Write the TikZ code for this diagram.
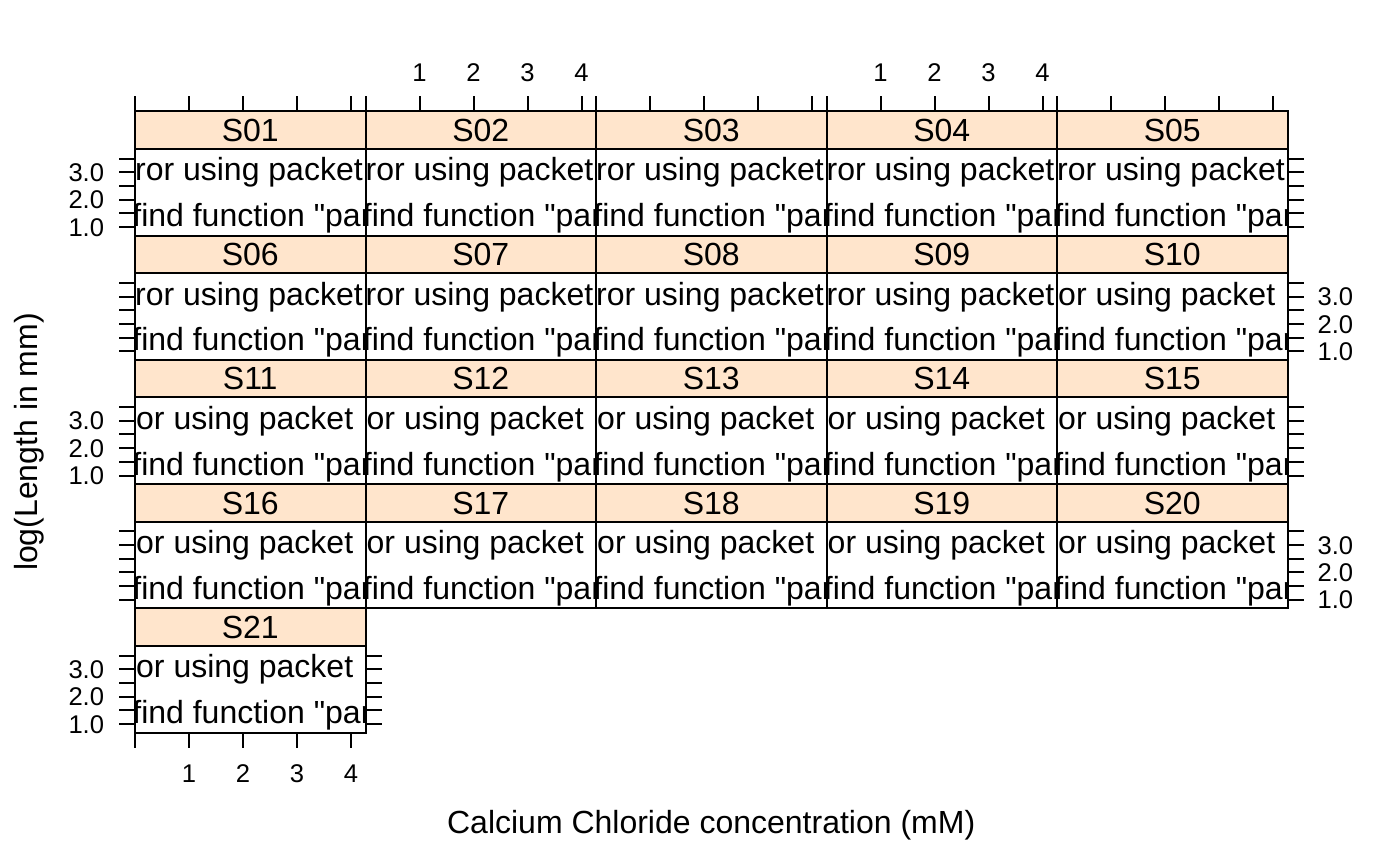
\documentclass[tikz,border=0pt]{standalone}
\usepackage{fontspec}
\setmainfont{Liberation Sans}[Ligatures=TeXOff]
\definecolor{stripcol}{HTML}{FFE5CC}

\begin{document}
\begin{tikzpicture}[x=0.5pt,y=-0.5pt,
  frame/.style={draw=black,line width=1pt},
  strip box/.style={frame,fill=stripcol},
  tick/.style={draw=black,line width=1pt},
  panel text/.style={font=\fontsize{16}{19}\selectfont,inner sep=0pt,anchor=base west},
  strip text/.style={font=\fontsize{16}{19}\selectfont,inner sep=0pt,anchor=base},
  tick label/.style={font=\fontsize{12.8}{15}\selectfont,inner sep=0pt}]

  \useasboundingbox (0,0) rectangle (1400,866);

  % panels S01 ... S21, five to a row
  \foreach \i in {0,...,20} {
    \pgfmathtruncatemacro\r{div(\i,5)}
    \pgfmathtruncatemacro\c{mod(\i,5)}
    \pgfmathtruncatemacro\num{\i+1}
    \pgfmathsetmacro\xl{135+230.5*\c}
    \pgfmathsetmacro\yt{111.5+124.2*\r}
    \begin{scope}
      \clip (\xl,\yt+37.5) rectangle ++(230.5,86.7);
      \ifnum\num<10
        \node[panel text] (err\num) at (\xl-0.3,\yt+69.5) {ror using packet};
      \else
        \node[panel text] (err\num) at (\xl+0.8,\yt+69.5) {or using packet};
      \fi
      \node[panel text] (msg\num) at (\xl-3,\yt+115.2) {find function "pan};
    \end{scope}
    \draw[strip box] (\xl,\yt) rectangle ++(230.5,37.5);
    \draw[frame] (\xl,\yt+37.5) rectangle ++(230.5,86.7);
    \node[strip text] (strip\num) at (\xl+115.25,\yt+30)
      {\ifnum\num<10 S0\num\else S\num\fi};
  }

  % top axis
  \foreach \c in {0,...,4}
    \foreach \k in {0,...,4}
      \draw[tick] (135+230.5*\c+54*\k,111.5) -- ++(0,-15.5);
  \foreach \c in {1,3}
    \foreach \k in {1,...,4}
      \node[tick label,anchor=base] (top\c\k) at (135+230.5*\c+54*\k,82) {\k};

  % left and right axes
  \foreach \r in {0,...,4} {
    \pgfmathsetmacro\yb{235.7+124.2*\r}
    \pgfmathsetmacro\xr{\r<4 ? 1287.5 : 365.5}
    \foreach \k in {0,...,5} {
      \draw[tick] (135,\yb-8.6-13.68*\k) -- ++(-16,0);
      \draw[tick] (\xr,\yb-8.6-13.68*\k) -- ++(16,0);
    }
  }
  \foreach \r in {0,2,4} {
    \pgfmathsetmacro\yb{235.7+124.2*\r}
    \foreach \k/\v in {0/1.0,2/2.0,4/3.0}
      \node[tick label,anchor=base east] (left\r\k) at (104.5,\yb-8.6-13.68*\k+9.2) {\v};
  }
  \foreach \r in {1,3} {
    \pgfmathsetmacro\yb{235.7+124.2*\r}
    \foreach \k/\v in {0/1.0,2/2.0,4/3.0}
      \node[tick label,anchor=base west] (right\r\k) at (1317.2,\yb-8.6-13.68*\k+9.2) {\v};
  }

  % bottom axis under S21
  \foreach \k in {0,...,4}
    \draw[tick] (135+54*\k,732.7) -- ++(0,15);
  \foreach \k in {1,...,4}
    \node[tick label,anchor=base] (bot\k) at (135+54*\k,782) {\k};

  % axis titles
  \node[font=\fontsize{16}{19}\selectfont,inner sep=0pt,anchor=base] (xlab) at (711.2,833.5)
    {Calcium Chloride concentration (mM)};
  \node[font=\fontsize{16}{19}\selectfont,inner sep=0pt,anchor=base,rotate=90] (ylab) at (37,442)
    {log(Length in mm)};
\end{tikzpicture}
\end{document}
